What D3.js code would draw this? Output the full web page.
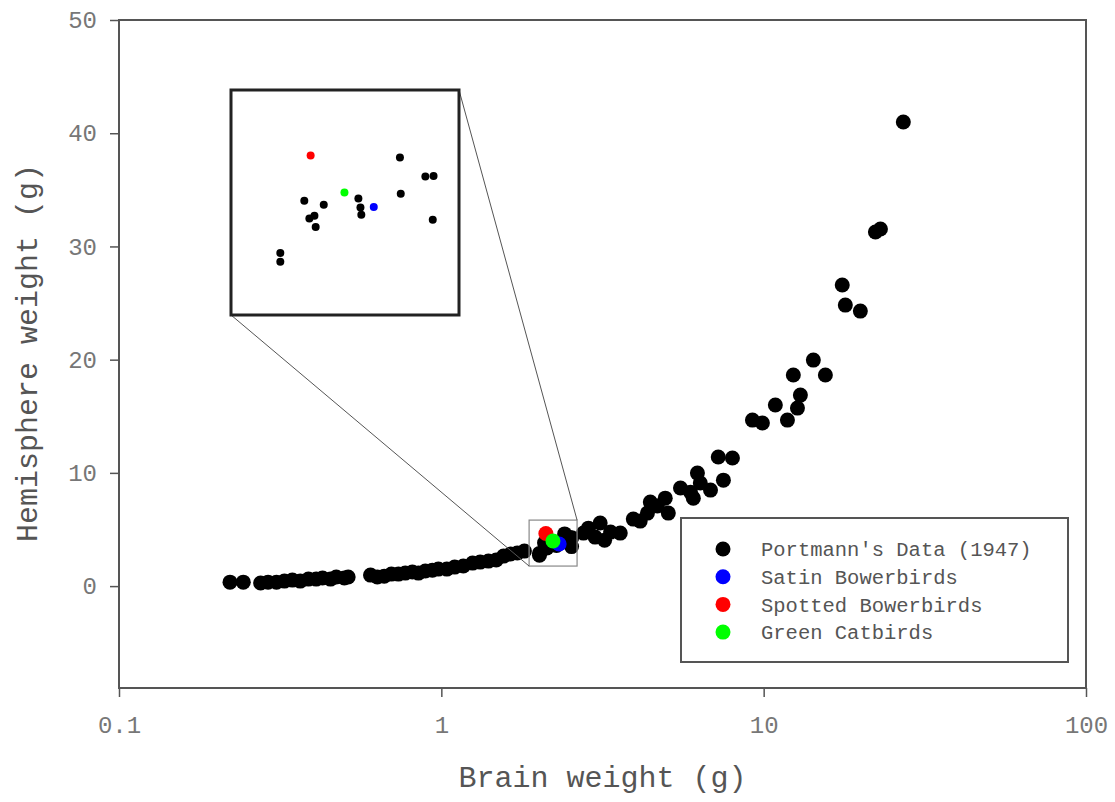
<!DOCTYPE html>
<html lang="en">
<head>
    <meta charset="UTF-8">
    <title>Hemisphere vs Brain weight</title>
    <script src="https://d3js.org/d3.v7.min.js"></script>
    <style>
        body { margin: 0; background: #fff; }
        text { font-family: "Liberation Mono", "Courier New", monospace; }
    </style>
</head>
<body>
    <svg width="1115" height="802"></svg>

    <script>
        // Portmann's data (1947): brain weight (g) and hemisphere weight (g)
        const portmannX = [0.221, 0.243, 0.275, 0.290, 0.308, 0.326, 0.345, 0.365, 0.387, 0.409,
            0.428, 0.453, 0.472, 0.500, 0.514, 0.603, 0.633, 0.665, 0.700, 0.736,
            0.773, 0.813, 0.849, 0.892, 0.938, 0.979, 1.04, 1.10, 1.17, 1.25,
            1.32, 1.40, 1.48, 1.56, 1.64, 1.72, 1.81,
            2.413, 2.507, 2.538, 2.416, 2.09, 2.152, 2.267, 2.274, 2.277, 2.106,
            2.122, 2.126, 2.535, 2.016, 2.016,
            2.76, 2.86, 3.00, 3.11, 3.21, 3.35, 3.59, 3.94, 4.14, 4.36,
            4.45, 4.68, 4.95, 5.06, 5.52, 5.93, 6.05, 6.23, 6.36, 6.84,
            7.23, 7.50, 8.00, 9.23, 9.91, 10.87, 11.85, 12.73, 13.00, 12.36,
            14.26, 15.54, 17.53, 17.92, 19.95, 22.22, 23.03, 27.12];
        const portmannY = [0.35, 0.35, 0.27, 0.35, 0.35, 0.44, 0.53, 0.44, 0.62, 0.62,
            0.71, 0.62, 0.80, 0.71, 0.80, 0.97, 0.80, 0.88, 1.06, 1.06,
            1.15, 1.24, 1.15, 1.33, 1.41, 1.50, 1.50, 1.68, 1.77, 2.03,
            2.12, 2.21, 2.30, 2.65, 2.83, 2.92, 3.09,
            4.61, 4.27, 4.28, 3.96, 3.83, 3.76, 3.87, 3.71, 3.58, 3.51,
            3.56, 3.36, 3.49, 2.89, 2.73,
            4.68, 5.12, 4.33, 5.57, 4.06, 4.77, 4.68, 5.92, 5.74, 6.45,
            7.42, 7.07, 7.77, 6.45, 8.66, 8.30, 7.77, 9.98, 9.10, 8.48,
            11.40, 9.36, 11.31, 14.66, 14.40, 15.99, 14.66, 15.72, 16.87, 18.64,
            19.96, 18.64, 26.59, 24.82, 24.29, 31.27, 31.54, 40.99];

        const satinX = [2.32];
        const satinY = [3.72];
        const spottedX = [2.11];
        const spottedY = [4.65];
        const catbirdX = [2.22];
        const catbirdY = [3.98];

        const seriesNames = ["Portmann's Data (1947)", "Satin Bowerbirds", "Spotted Bowerbirds", "Green Catbirds"];
        const seriesColors = ["#000000", "#0000ff", "#ff0000", "#00ff00"];

        const xTicks = [0.1, 1, 10, 100];
        const xTickLabels = ["0.1", "1", "10", "100"];
        const yTicks = [0, 10, 20, 30, 40, 50];

        // region that is magnified in the inset (data units)
        const zoomX = [1.872, 2.637];
        const zoomY = [1.77, 5.83];

        const width = 1115;
        const height = 802;
        const margin = {top: 20, right: 29, bottom: 114, left: 119};

        const svg = d3.select("svg")
            .attr("width", width)
            .attr("height", height);

        const x = d3.scaleLog()
            .domain([0.1, 100])
            .range([margin.left, width - margin.right]);

        const y = d3.scaleLinear()
            .domain([-9, 50])
            .range([height - margin.bottom, margin.top]);

        // build series table
        const series = [
            {x: portmannX, y: portmannY},
            {x: satinX, y: satinY},
            {x: spottedX, y: spottedY},
            {x: catbirdX, y: catbirdY}
        ].map((s, i) => ({
            name: seriesNames[i],
            color: seriesColors[i],
            points: s.x.map((v, j) => ({x: v, y: s.y[j]}))
        }));

        // frame
        svg.append("rect")
            .attr("x", margin.left)
            .attr("y", margin.top)
            .attr("width", width - margin.right - margin.left)
            .attr("height", height - margin.bottom - margin.top)
            .attr("fill", "none")
            .attr("stroke", "#555")
            .attr("stroke-width", 2);

        // x axis
        const xAxis = svg.append("g")
            .attr("transform", `translate(0,${height - margin.bottom})`)
            .call(d3.axisBottom(x)
                .tickValues(xTicks)
                .tickFormat((d, i) => xTickLabels[i])
                .tickSize(9)
                .tickPadding(19));
        xAxis.select(".domain").remove();
        xAxis.selectAll("line").attr("stroke", "#555").attr("stroke-width", 1.5);
        xAxis.selectAll("text")
            .attr("fill", "#777")
            .style("font-size", "24px")
            .style("font-family", "'Liberation Mono', 'Courier New', monospace");

        // y axis
        const yAxis = svg.append("g")
            .attr("transform", `translate(${margin.left},0)`)
            .call(d3.axisLeft(y)
                .tickValues(yTicks)
                .tickSize(9)
                .tickPadding(13));
        yAxis.select(".domain").remove();
        yAxis.selectAll("line").attr("stroke", "#555").attr("stroke-width", 1.5);
        yAxis.selectAll("text")
            .attr("fill", "#777")
            .style("font-size", "24px")
            .style("font-family", "'Liberation Mono', 'Courier New', monospace");

        // axis titles
        svg.append("text")
            .attr("text-anchor", "middle")
            .attr("x", (margin.left + width - margin.right) / 2)
            .attr("y", 787)
            .attr("fill", "#555")
            .style("font-size", "30px")
            .text("Brain weight (g)");

        svg.append("text")
            .attr("text-anchor", "middle")
            .attr("transform", "translate(37,353) rotate(-90)")
            .attr("fill", "#555")
            .style("font-size", "30px")
            .text("Hemisphere weight (g)");

        // main points
        series.forEach(s => {
            svg.append("g")
                .selectAll("circle")
                .data(s.points)
                .enter()
                .append("circle")
                .attr("cx", d => x(d.x))
                .attr("cy", d => y(d.y))
                .attr("r", 7.5)
                .attr("fill", s.color);
        });

        // small zoom box
        svg.append("rect")
            .attr("x", x(zoomX[0]))
            .attr("y", y(zoomY[1]))
            .attr("width", x(zoomX[1]) - x(zoomX[0]))
            .attr("height", y(zoomY[0]) - y(zoomY[1]))
            .attr("fill", "none")
            .attr("stroke", "#888")
            .attr("stroke-width", 1.2);

        // inset
        const inset = {x: 231, y: 90, w: 228, h: 225};

        svg.append("line")
            .attr("x1", inset.x + inset.w).attr("y1", inset.y)
            .attr("x2", x(zoomX[1])).attr("y2", y(zoomY[1]))
            .attr("stroke", "#555").attr("stroke-width", 1);
        svg.append("line")
            .attr("x1", inset.x).attr("y1", inset.y + inset.h)
            .attr("x2", x(zoomX[0])).attr("y2", y(zoomY[0]))
            .attr("stroke", "#555").attr("stroke-width", 1);

        const ix = d3.scaleLog().domain(zoomX).range([inset.x, inset.x + inset.w]);
        const iy = d3.scaleLinear().domain(zoomY).range([inset.y + inset.h, inset.y]);

        svg.append("rect")
            .attr("x", inset.x)
            .attr("y", inset.y)
            .attr("width", inset.w)
            .attr("height", inset.h)
            .attr("fill", "#fff")
            .attr("stroke", "#222")
            .attr("stroke-width", 3);

        series.forEach(s => {
            svg.append("g")
                .selectAll("circle")
                .data(s.points.filter(d => d.x >= zoomX[0] && d.x <= zoomX[1] && d.y >= zoomY[0] && d.y <= zoomY[1]))
                .enter()
                .append("circle")
                .attr("cx", d => ix(d.x))
                .attr("cy", d => iy(d.y))
                .attr("r", 4)
                .attr("fill", s.color);
        });

        // legend
        const legend = svg.append("g");
        legend.append("rect")
            .attr("x", 681).attr("y", 518)
            .attr("width", 387).attr("height", 144)
            .attr("fill", "#fff")
            .attr("stroke", "#555")
            .attr("stroke-width", 2);

        series.forEach((s, i) => {
            legend.append("circle")
                .attr("cx", 723).attr("cy", 549 + i * 27.7)
                .attr("r", 7.5).attr("fill", s.color);
            legend.append("text")
                .attr("x", 761).attr("y", 549 + i * 27.7)
                .attr("dy", "0.35em")
                .attr("fill", "#555")
                .style("font-size", "20.5px")
                .text(s.name);
        });
    </script>
</body>
</html>
